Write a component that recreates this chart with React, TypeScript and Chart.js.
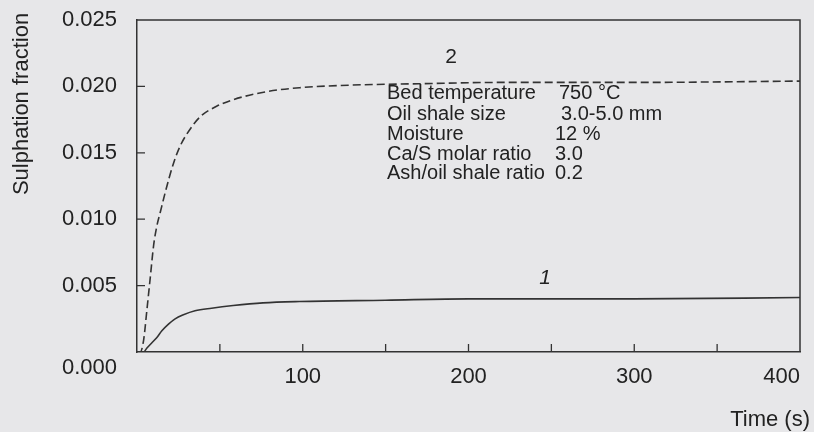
import React, { useEffect, useRef } from 'react';
import { Chart, registerables } from 'chart.js';

Chart.register(...registerables);

// Curve 1 (solid)
const timeCurve1 = [0, 4, 6, 9, 12, 15, 19, 23, 28, 35, 45, 58, 76, 98, 150, 200, 300, 400];
const fractionCurve1 = [0, 0, 0.0003, 0.0007, 0.0011, 0.0016, 0.0021, 0.0025, 0.0028, 0.0031, 0.0033, 0.0035, 0.0037, 0.0038, 0.0039, 0.004, 0.004, 0.0041];

// Curve 2 (dashed)
const timeCurve2 = [0, 2, 4, 6, 8, 10, 12, 14, 17, 22, 26, 30, 38, 48, 58, 78, 98, 130, 170, 220, 300, 400];
const fractionCurve2 = [0, 0, 0.0009, 0.0032, 0.0056, 0.008, 0.0095, 0.0105, 0.012, 0.0142, 0.0155, 0.0164, 0.0177, 0.0185, 0.019, 0.0196, 0.0199, 0.0201, 0.0202, 0.0203, 0.0203, 0.0204];

const curveLabels = ['1', '2'];
const xLabelledTicks = [100, 200, 300, 400];
const yTickLabels = ['0.000', '0.005', '0.010', '0.015', '0.020', '0.025'];
const xTitle = 'Time (s)';
const yTitle = 'Sulphation fraction';
const conditionNames = ['Bed temperature', 'Oil shale size', 'Moisture', 'Ca/S molar ratio', 'Ash/oil shale ratio'];
const conditionValues = ['750 °C', '3.0-5.0 mm', '12 %', '3.0', '0.2'];

const FONT = '"Liberation Sans", Arial, Helvetica, sans-serif';
const INK = '#222222';
const LINE = '#333333';

const decorPlugin = {
  id: 'decor',
  afterDraw(chart: any) {
    const { ctx, chartArea, scales } = chart;
    const xs = scales.x;
    const ys = scales.y;
    ctx.save();
    // top and right frame
    ctx.strokeStyle = LINE;
    ctx.lineWidth = 1.5;
    ctx.beginPath();
    ctx.moveTo(chartArea.left, chartArea.top);
    ctx.lineTo(chartArea.right, chartArea.top);
    ctx.lineTo(chartArea.right, chartArea.bottom);
    ctx.stroke();
    // inward ticks
    ctx.lineWidth = 1.3;
    ctx.beginPath();
    xs.ticks.forEach((t: any) => {
      if (t.value <= xs.min || t.value >= xs.max) return;
      const px = xs.getPixelForValue(t.value);
      ctx.moveTo(px, chartArea.bottom);
      ctx.lineTo(px, chartArea.bottom - 8);
    });
    ys.ticks.forEach((t: any) => {
      if (t.value <= ys.min || t.value >= ys.max) return;
      const py = ys.getPixelForValue(t.value);
      ctx.moveTo(chartArea.left, py);
      ctx.lineTo(chartArea.left + 8, py);
    });
    ctx.stroke();

    ctx.fillStyle = INK;
    // zero label sits below the axis
    ctx.font = `22px ${FONT}`;
    ctx.textAlign = 'right';
    ctx.textBaseline = 'middle';
    ctx.fillText(yTickLabels[0], chartArea.left - 20, ys.getPixelForValue(0) + 16);

    // y title
    ctx.save();
    ctx.translate(22, 104);
    ctx.rotate(-Math.PI / 2);
    ctx.textAlign = 'center';
    ctx.textBaseline = 'middle';
    ctx.font = `22px ${FONT}`;
    ctx.fillText(yTitle, 0, 0);
    ctx.restore();

    // x title
    ctx.font = `22px ${FONT}`;
    ctx.textAlign = 'right';
    ctx.textBaseline = 'alphabetic';
    ctx.fillText(xTitle, 810, 426);

    // curve labels
    ctx.textAlign = 'center';
    ctx.textBaseline = 'middle';
    ctx.font = `21px ${FONT}`;
    ctx.fillText(curveLabels[1], 451, 57);
    ctx.font = `italic 21px ${FONT}`;
    ctx.fillText(curveLabels[0], 545, 278);

    // conditions
    ctx.font = `20px ${FONT}`;
    ctx.textAlign = 'left';
    const rowY = [93, 114, 134, 154, 173];
    const valX = [559, 561, 555, 555, 555];
    conditionNames.forEach((n, i) => {
      ctx.fillText(n, 387, rowY[i]);
      ctx.fillText(conditionValues[i], valX[i], rowY[i]);
    });
    ctx.restore();
  },
};

export default function App() {
  const ref = useRef<HTMLCanvasElement | null>(null);
  useEffect(() => {
    if (!ref.current) return;
    const chart = new Chart(ref.current, {
      type: 'line',
      data: {
        datasets: [
          {
            label: curveLabels[0],
            data: timeCurve1.map((t, i) => ({ x: t, y: fractionCurve1[i] })),
            borderColor: LINE,
            borderWidth: 1.6,
            pointRadius: 0,
            fill: false,
            cubicInterpolationMode: 'monotone',
          },
          {
            label: curveLabels[1],
            data: timeCurve2.map((t, i) => ({ x: t, y: fractionCurve2[i] })),
            borderColor: LINE,
            borderWidth: 1.6,
            borderDash: [8, 4],
            pointRadius: 0,
            fill: false,
            cubicInterpolationMode: 'monotone',
          },
        ],
      },
      options: {
        animation: false,
        responsive: false,
        devicePixelRatio: 1,
        layout: { padding: { top: 20, right: 14, left: 0, bottom: 0 } },
        plugins: { legend: { display: false }, tooltip: { enabled: false } },
        scales: {
          x: {
            type: 'linear',
            min: 0,
            max: 400,
            grid: { display: false, drawTicks: false },
            border: { display: true, color: LINE, width: 1.5 },
            ticks: {
              stepSize: 50,
              padding: 12,
              align: 'inner',
              maxRotation: 0,
              color: INK,
              font: { family: FONT, size: 22 },
              callback: (v: any) => (xLabelledTicks.includes(Number(v)) ? String(v) : ''),
            },
            afterFit: (s: any) => {
              s.height = 80;
              s.paddingLeft = 0;
              s.paddingRight = 0;
            },
          },
          y: {
            type: 'linear',
            min: 0,
            max: 0.025,
            grid: { display: false, drawTicks: false },
            border: { display: true, color: LINE, width: 1.5 },
            ticks: {
              stepSize: 0.005,
              padding: 20,
              color: INK,
              font: { family: FONT, size: 22 },
              callback: (v: any) => {
                const idx = Math.round(Number(v) / 0.005);
                return idx === 0 ? '' : yTickLabels[idx] ?? '';
              },
            },
            afterFit: (s: any) => {
              s.width = 137;
              s.paddingTop = 0;
              s.paddingBottom = 0;
            },
          },
        },
      },
      plugins: [decorPlugin],
    } as any);
    return () => chart.destroy();
  }, []);
  return (
    <div style={{ position: 'absolute', left: 0, top: 0, width: 814, height: 432, background: '#e7e7e9' }}>
      <canvas ref={ref} width={814} height={432} style={{ display: 'block' }} />
    </div>
  );
}
